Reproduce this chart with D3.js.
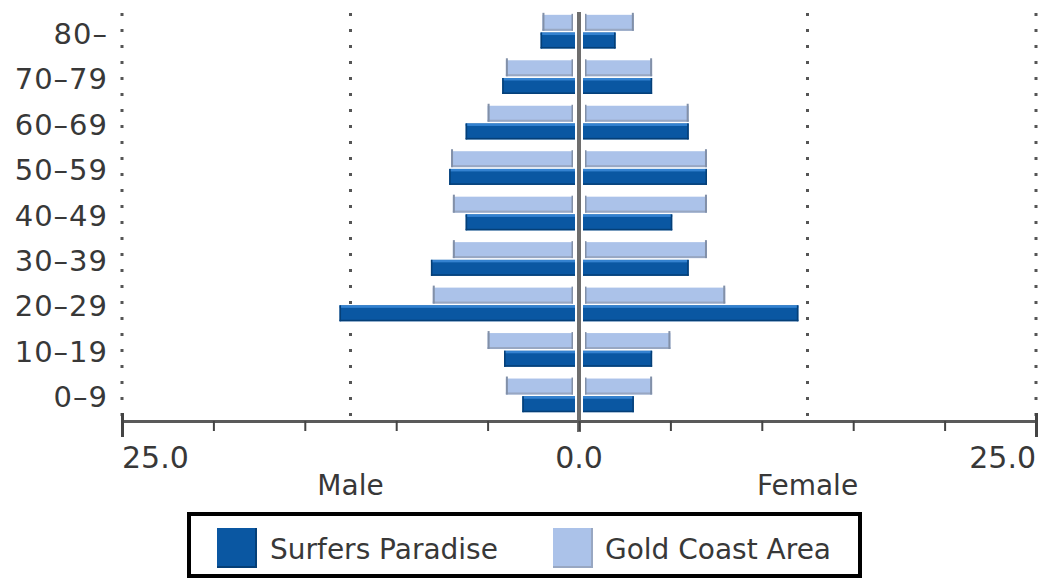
<!DOCTYPE html>
<html>
<head>
<meta charset="utf-8">
<script src="https://cdn.jsdelivr.net/npm/d3@7"></script>
<style>
  html, body { margin: 0; padding: 0; background: #fff; }
  svg { display: block; }
  text { font-family: "DejaVu Sans", sans-serif; fill: #383838; }
</style>
</head>
<body>
<svg id="chart" width="1040" height="579"></svg>
<script>
// ---- data (percent of population) ----
const ages = ["0–9", "10–19", "20–29", "30–39", "40–49", "50–59", "60–69", "70–79", "80–"];
const surfersMale   = [3.1, 4.1, 13.1, 8.1, 6.2, 7.1, 6.2, 4.2, 2.1];
const surfersFemale = [3.0, 4.0, 12.0, 6.0, 5.1, 7.0, 6.0, 4.0, 2.0];
const goldMale      = [4.0, 5.0, 8.0, 6.9, 6.9, 7.0, 5.0, 4.0, 2.0];
const goldFemale    = [4.0, 5.0, 8.0, 7.0, 7.0, 7.0, 6.0, 4.0, 3.0];
const tickValues    = [-25, 0, 25];
const gridValues    = [-25, -12.5, 12.5, 25];
const sexLabels     = [{v: -12.5, t: "Male"}, {v: 12.5, t: "Female"}];
const seriesNames   = ["Surfers Paradise", "Gold Coast Area"];

const svg = d3.select("#chart");
const x = d3.scaleLinear().domain([-25, 25]).range([122, 1036]);
const y = d3.scaleBand().domain(ages.slice().reverse()).range([3, 424]).paddingInner(0.26).paddingOuter(0.26);
const sub = d3.scaleBand().domain(["gold", "surfers"]).range([0, y.bandwidth()]).paddingInner(0.1);
const axisY = 421;

const DARK = "#0a57a2", DARK_HI = "#3482d0", DARK_LO = "#053f77";
const LIGHT = "#abc2e9", LIGHT_EDGE = "#8290a8", LIGHT_LO = "#98a7c2";

// gridlines (dotted)
svg.append("g").selectAll("line").data(gridValues).join("line")
  .attr("x1", d => x(d)).attr("x2", d => x(d))
  .attr("y1", 13).attr("y2", axisY - 4)
  .attr("stroke", "#555").attr("stroke-width", 3)
  .attr("stroke-dasharray", "3,13");

// rows
const rows = ages.map((a, i) => ({
  age: a, sm: surfersMale[i], sf: surfersFemale[i], gm: goldMale[i], gf: goldFemale[i]
}));

const gBars = svg.append("g");
const GAP_D = 4, GAP_L = 6;
rows.forEach(r => {
  const y0 = y(r.age);
  // light bars (Gold Coast)
  const ly = y0 + sub("gold"), lh = sub.bandwidth();
  [[-r.gm, -1], [r.gf, 1]].forEach(([v, s]) => {
    const xs = x(0) + s * GAP_L, xe = x(v);
    const x1 = Math.min(xs, xe), w = Math.abs(xe - xs);
    gBars.append("rect").attr("x", x1).attr("y", ly).attr("width", w).attr("height", lh).attr("fill", LIGHT);
    gBars.append("rect").attr("x", x1).attr("y", ly + lh - 2).attr("width", w).attr("height", 2).attr("fill", LIGHT_LO);
    gBars.append("rect").attr("x", s < 0 ? xe : xe - 2).attr("y", ly - 2).attr("width", 2).attr("height", lh + 2).attr("fill", LIGHT_EDGE);
    gBars.append("rect").attr("x", s < 0 ? xs - 1.5 : xs).attr("y", ly - 1).attr("width", 1.5).attr("height", lh + 1).attr("fill", LIGHT_EDGE);
  });
  // dark bars (Surfers Paradise)
  const dy = y0 + sub("surfers"), dh = sub.bandwidth();
  [[-r.sm, -1], [r.sf, 1]].forEach(([v, s]) => {
    const xs = x(0) + s * GAP_D, xe = x(v);
    const x1 = Math.min(xs, xe), w = Math.abs(xe - xs);
    gBars.append("rect").attr("x", x1).attr("y", dy).attr("width", w).attr("height", dh).attr("fill", DARK);
    gBars.append("rect").attr("x", x1).attr("y", dy).attr("width", w).attr("height", 2.5).attr("fill", DARK_HI);
    gBars.append("rect").attr("x", x1).attr("y", dy + dh - 1.5).attr("width", w).attr("height", 1.5).attr("fill", DARK_LO);
    gBars.append("rect").attr("x", s < 0 ? xe : xe - 1.5).attr("y", dy).attr("width", 1.5).attr("height", dh).attr("fill", DARK_LO);
  });
});

// center line
svg.append("line").attr("x1", x(0)).attr("x2", x(0)).attr("y1", 12).attr("y2", axisY + 11)
  .attr("stroke", "#6e6e6e").attr("stroke-width", 4);

// x axis
const xAxis = d3.axisBottom(x).tickValues(d3.range(-25, 26, 5)).tickSize(10).tickFormat("");
const gx = svg.append("g").attr("transform", `translate(0,${axisY})`).call(xAxis);
gx.select(".domain").attr("stroke", "#5a5a5a").attr("stroke-width", 3);
gx.selectAll(".tick line").attr("stroke", "#444").attr("stroke-width", 2);
gx.selectAll(".tick").filter(d => Math.abs(d) === 25).select("line")
  .attr("y1", -8).attr("y2", 16).attr("stroke-width", 3);

// tick labels
svg.append("g").selectAll("text").data(tickValues).join("text")
  .attr("x", d => x(d))
  .attr("y", 468)
  .attr("text-anchor", d => d < 0 ? "start" : d > 0 ? "end" : "middle")
  .attr("font-size", 30)
  .text(d => Math.abs(d).toFixed(1));

// Male / Female labels
svg.append("g").selectAll("text").data(sexLabels).join("text")
  .attr("x", d => x(d.v)).attr("y", 495)
  .attr("text-anchor", "middle").attr("font-size", 28)
  .text(d => d.t);

// y labels
svg.append("g").selectAll("text").data(ages).join("text")
  .attr("x", 108)
  .attr("y", d => y(d) + y.bandwidth() / 2 + 12)
  .attr("text-anchor", "end")
  .attr("font-size", 29)
  .attr("letter-spacing", 1)
  .text(d => d);

// legend
const lg = svg.append("g");
lg.append("rect").attr("x", 189).attr("y", 514).attr("width", 671).attr("height", 62)
  .attr("fill", "#fff").attr("stroke", "#000").attr("stroke-width", 4);
const legendItems = [
  {name: seriesNames[0], fill: DARK, lo: DARK_LO, sx: 217, tx: 270},
  {name: seriesNames[1], fill: LIGHT, lo: LIGHT_LO, sx: 553, tx: 605}
];
legendItems.forEach(it => {
  lg.append("rect").attr("x", it.sx).attr("y", 528).attr("width", 40).attr("height", 40).attr("fill", it.fill);
  lg.append("rect").attr("x", it.sx + 38).attr("y", 528).attr("width", 2).attr("height", 40).attr("fill", it.lo);
  lg.append("rect").attr("x", it.sx).attr("y", 566).attr("width", 40).attr("height", 2).attr("fill", it.lo);
  lg.append("text").attr("x", it.tx).attr("y", 559).attr("font-size", 28).text(it.name);
});
</script>
</body>
</html>
